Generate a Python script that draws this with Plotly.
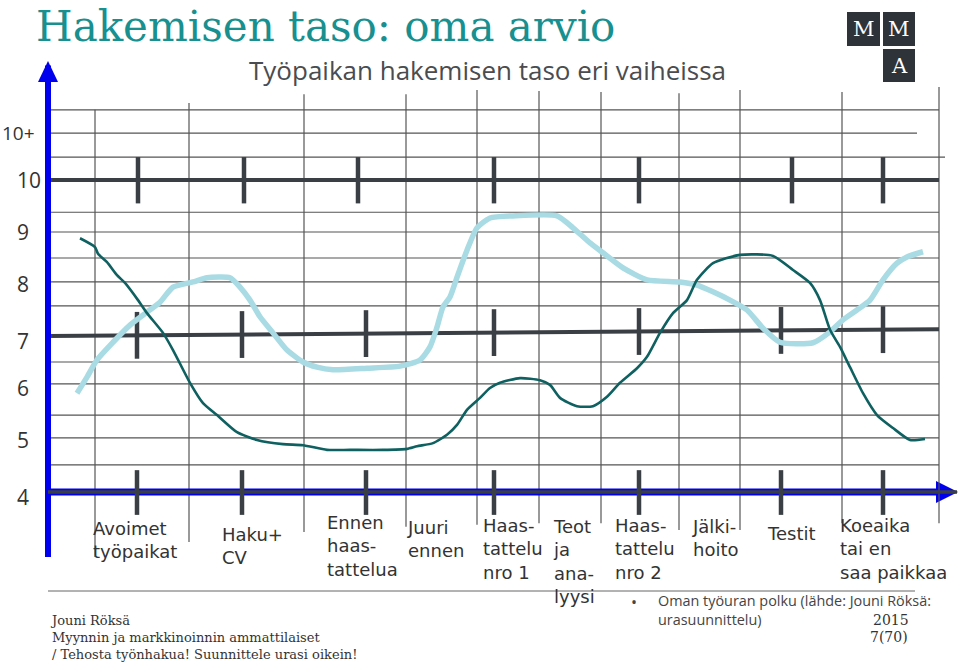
import plotly.graph_objects as go

# ---------------- data ----------------
# x = progress along the application process (arbitrary units), y = level 4..10+
dark_x = [3.2, 4.7, 5.0, 5.9, 6.9, 7.7, 9.0, 9.9, 11.5, 12.5, 14.2, 15.5, 16.9, 18.9, 20.9,
          23.5, 25.5, 27.9, 30.2, 33.5, 35.9, 36.9, 38.5, 39.9, 40.9, 41.9, 43.2, 44.2, 45.2,
          47.2, 49.2, 50.2, 51.2, 52.9, 54.5, 55.9, 57.2, 58.9, 59.9, 61.2, 62.5, 63.9, 64.9,
          66.5, 69.2, 72.5, 74.5, 76.2, 77.2, 78.2, 79.2, 80.2, 81.5, 82.9, 84.5, 86.2, 87.7]
dark_y = [8.88, 8.71, 8.58, 8.42, 8.17, 8.02, 7.69, 7.44, 7.06, 6.73, 6.10, 5.71, 5.48, 5.15, 5.00,
          4.92, 4.90, 4.81, 4.81, 4.81, 4.83, 4.88, 4.94, 5.10, 5.29, 5.58, 5.81, 6.00, 6.10,
          6.19, 6.15, 6.06, 5.81, 5.65, 5.65, 5.83, 6.10, 6.38, 6.60, 7.06, 7.44, 7.69, 8.08,
          8.40, 8.56, 8.54, 8.27, 8.02, 7.69, 7.12, 6.79, 6.40, 5.90, 5.48, 5.23, 5.00, 5.02]

light_x = [2.9, 3.9, 4.9, 6.5, 8.2, 9.9, 11.2, 12.5, 14.5, 15.9, 18.2, 19.2, 20.2, 21.2, 22.5,
           23.9, 25.5, 26.9, 28.5, 31.9, 35.2, 37.2, 38.2, 38.9, 39.5, 40.2, 40.9, 41.9, 42.9,
           44.2, 46.5, 50.9, 52.5, 54.2, 55.5, 57.5, 59.9, 63.2, 64.9, 66.5, 68.2, 69.9, 71.5,
           73.2, 76.5, 78.2, 79.5, 80.9, 82.2, 83.5, 84.9, 85.9, 87.5]
light_y = [5.90, 6.21, 6.54, 6.88, 7.21, 7.46, 7.65, 7.94, 8.04, 8.12, 8.12, 7.94, 7.69, 7.37, 7.06,
           6.73, 6.50, 6.40, 6.35, 6.38, 6.42, 6.54, 6.79, 7.17, 7.56, 7.75, 8.13, 8.65, 9.08,
           9.27, 9.31, 9.31, 9.08, 8.79, 8.60, 8.31, 8.08, 8.04, 7.98, 7.85, 7.69, 7.50, 7.15,
           6.88, 6.87, 7.08, 7.31, 7.50, 7.69, 8.08, 8.40, 8.52, 8.62]

stage_labels = ["Avoimet<br>työpaikat", "Haku+<br>CV", "Ennen<br>haas-<br>tattelua", "Juuri<br>ennen",
                "Haas-<br>tattelu<br>nro 1", "Teot<br>ja<br>ana-<br>lyysi", "Haas-<br>tattelu<br>nro 2",
                "Jälki-<br>hoito", "Testit", "Koeaika<br>tai en<br>saa paikkaa"]

level_ticks = [10.9, 10, 9, 8, 7, 6, 5, 4]
level_text = ["10+", "10", "9", "8", "7", "6", "5", "4"]

# stage tick marks on the three thick lines
ticks_top = [9.0, 19.6, 31.0, 44.6, 59.1, 74.4, 83.5]
ticks_mid = [8.9, 19.4, 31.8, 44.6, 59.1, 73.3, 83.5]
ticks_bot = [8.9, 19.4, 31.8, 44.6, 59.1, 73.3, 83.5]

# ---------------- layout helpers ----------------
W, H = 960, 666
def PX(x):
    return x / W
def PY(y):
    return 1 - y / H

XR = [-4.8, 91.2]
YR = [0.6538, 13.4615]

GRID = "#555555"
THICK = "#3a3f45"
BLUE = "#0000ee"

shapes = []
def line(x0, y0, x1, y1, color, width, xref="x", yref="y"):
    shapes.append(dict(type="line", x0=x0, y0=y0, x1=x1, y1=y1, xref=xref, yref=yref,
                       line=dict(color=color, width=width), layer="below"))

# horizontal thin grid lines (level, x start, x end)
hgrid = [(11.35, 0, 89.1), (10.90, 0, 86.9), (10.44, 0, 89.7), (9.38, 0, 89.1), (9.0, 0, 89.1),
         (8.5, 0, 89.1), (8.04, 0, 89.1), (7.58, 0, 89.1), (6.5, 0, 89.1), (6.08, 0, 89.1),
         (5.48, 0, 89.1), (5.04, 0, 89.1), (4.52, 0, 89.1)]
for lv, a, b in hgrid:
    line(a, lv, b, lv, GRID, 1.2)

# vertical thin grid lines (x, top, bottom)
vgrid = [(4.7, 11.35, 2.75), (14.1, 11.48, 3.04), (25.6, 11.65, 3.23), (35.8, 11.65, 3.33),
         (42.9, 11.73, 3.37), (49.1, 11.71, 3.40), (55.3, 11.69, 3.40), (63.1, 11.67, 3.27),
         (69.2, 11.73, 3.27), (79.4, 11.69, 3.40), (89.1, 11.79, 3.40)]
for xv, t, b in vgrid:
    line(xv, t, xv, b, GRID, 1.2)

# thick lines
line(0, 10, 89.1, 10, THICK, 4)
line(0, 7.0, 89.1, 7.13, THICK, 4)
for xv in ticks_top:
    line(xv, 10.44, xv, 9.55, THICK, 4.5)
for xv in ticks_mid:
    yc = 7.0 + 0.13 * xv / 89.1
    line(xv, yc + 0.45, xv, yc - 0.45, THICK, 4.5)

# blue axes
line(0, 2.75, 0, 12.2, BLUE, 6)
line(0, 4, 88.9, 4, BLUE, 7)
line(0, 4, 90.9, 4, THICK, 3.5)
for xv in ticks_bot:
    line(xv, 4.42, xv, 3.56, THICK, 4.5)

# arrow heads (paper coords from pixel positions)
shapes.append(dict(type="path", xref="paper", yref="paper",
                   path=f"M {PX(38)} {PY(82)} L {PX(58)} {PY(82)} L {PX(48)} {PY(61)} Z",
                   fillcolor=BLUE, line=dict(width=0), layer="below"))
shapes.append(dict(type="path", xref="paper", yref="paper",
                   path=f"M {PX(936)} {PY(481)} L {PX(936)} {PY(503)} L {PX(958)} {PY(492)} Z",
                   fillcolor=BLUE, line=dict(width=0), layer="below"))

# separator line below labels
line(PX(48), PY(591), PX(915), PY(591), "#666666", 1, xref="paper", yref="paper")

# logo boxes
for x0, y0, x1, y1 in [(847, 12, 880, 46), (883, 12, 915, 46), (883, 49, 915, 82)]:
    shapes.append(dict(type="rect", xref="paper", yref="paper", x0=PX(x0), x1=PX(x1),
                       y0=PY(y1), y1=PY(y0), fillcolor="#2e333a", line=dict(width=0)))

fig = go.Figure()
fig.add_trace(go.Scatter(x=light_x, y=light_y, mode="lines",
                         line=dict(color="#a8dbe3", width=5.5, shape="spline", smoothing=0.6),
                         hoverinfo="skip", showlegend=False))
fig.add_trace(go.Scatter(x=dark_x, y=dark_y, mode="lines",
                         line=dict(color="#0f6060", width=2.6, shape="spline", smoothing=0.6),
                         hoverinfo="skip", showlegend=False))

ann = []
def text(x, y, s, size, color, family, xanchor="left", yanchor="middle", xref="paper", yref="paper",
         align="left", yshift=0, borderpad=1):
    ann.append(dict(x=x, y=y, text=s, showarrow=False, xref=xref, yref=yref, xanchor=xanchor,
                    yanchor=yanchor, align=align, yshift=yshift, borderpad=borderpad,
                    font=dict(size=size, color=color, family=family)))

# titles
text(PX(35), PY(26), "Hakemisen taso: oma arvio", 42, "#17908f", "DejaVu Serif", borderpad=0)
text(PX(487), PY(70), "Työpaikan hakemisen taso eri vaiheissa", 26, "#4a4c4f", "Open Sans",
     xanchor="center")

# logo letters
for cx, cy, s in [(863.5, 29, "M"), (899, 29, "M"), (899, 65.5, "A")]:
    text(PX(cx), PY(cy), s, 21, "white", "DejaVu Serif", xanchor="center")

# level labels
label_px = {"10+": 37, "10": 43}
for v, s in zip(level_ticks, level_text):
    ys = -5 if s in ("7", "4") else 0
    size = 19 if s == "10+" else 21
    text(PX(label_px.get(s, 31)), v, s, size, "#333333", "Open Sans", xanchor="right", yref="y",
         yshift=ys)

# stage labels
label_left = [91, 220, 325, 405, 481, 551, 613, 690, 765, 838]
label_mid = [539.5, 546, 546, 538.5, 549, 561, 549, 537.5, 533, 549]
for s, lx, ly in zip(stage_labels, label_left, label_mid):
    text(PX(lx), PY(ly), s, 18, "#333333", "DejaVu Sans")

# footer
text(PX(48), PY(637), "Jouni Röksä<br>Myynnin ja markkinoinnin ammattilaiset<br>/ Tehosta työnhakua! Suunnittele urasi oikein!",
     13, "#333333", "DejaVu Serif")
text(PX(629), PY(602), "•", 16, "#444444", "Open Sans")
text(PX(656), PY(609.5), "Oman työuran polku (lähde: Jouni Röksä:<br>urasuunnittelu)", 14.4, "#444444",
     "Open Sans")
text(PX(891), PY(620), "2015", 14, "#333333", "DejaVu Serif", xanchor="center")
text(PX(889), PY(637), "7(70)", 14, "#333333", "DejaVu Serif", xanchor="center")

fig.update_layout(
    width=W, height=H, margin=dict(l=0, r=0, t=0, b=0),
    paper_bgcolor="white", plot_bgcolor="white",
    xaxis=dict(range=XR, visible=False, fixedrange=True),
    yaxis=dict(range=YR, visible=False, fixedrange=True),
    shapes=shapes, annotations=ann, showlegend=False,
)

fig.write_html("out.html", config={"displayModeBar": False},
               post_script="document.body.style.margin='0';")
